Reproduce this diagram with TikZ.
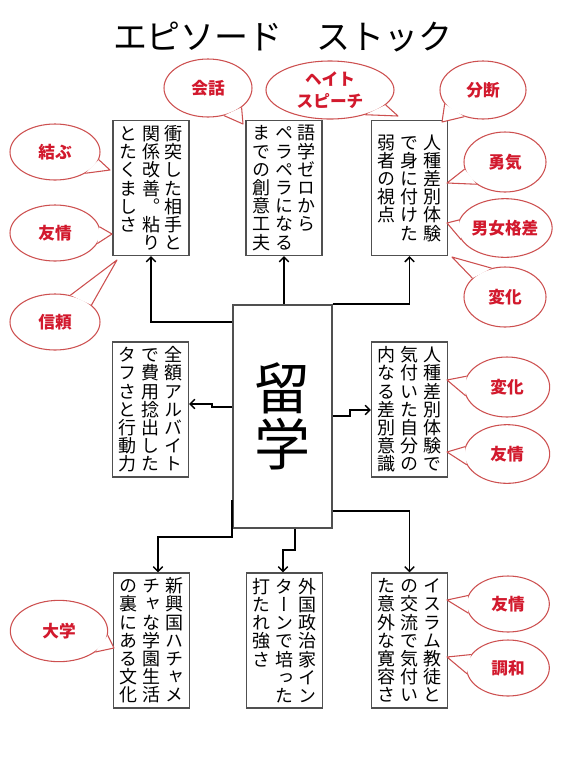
\documentclass[tikz,border=0pt]{standalone}
\usepackage{fontspec}
\usetikzlibrary{shapes.geometric,arrows.meta,calc}
\setmainfont{Noto Sans CJK JP}
\newfontfamily\jpv[RawFeature=+vert]{Noto Sans CJK JP}
\definecolor{bubred}{RGB}{205,80,80}
\definecolor{txtred}{RGB}{210,25,45}
\definecolor{boxline}{RGB}{80,80,80}
\ExplSyntaxOn
\cs_new:Npn \my_tate_char:n #1 { \hbox_to_wd:nn {1em} { \hss #1 \hss } }
\NewDocumentCommand \tatecol { m } { \vtop { \lineskiplimit=-100pt \lineskip=0pt \tl_map_function:nN {#1} \my_tate_char:n } }
\ExplSyntaxOff
\newcommand\colgap{\hspace{3.4pt}}
\newcommand\bubble[8]{%
  \node[bubble, minimum width=#3, minimum height=#4] (#1) at #2 {#5};
  \coordinate (#1tip) at #8;
  \fill[white] (#1.#6) -- (#1tip) -- (#1.#7) -- cycle;
  \draw[bubedge] (#1.#6) -- (#1tip) -- (#1.#7);
}
\tikzset{
  tbox/.style={draw=boxline, line width=1pt, fill=white, minimum width=57pt, minimum height=101.25pt, inner sep=0pt,
    font=\jpv\fontsize{13.5pt}{13.65pt}\selectfont},
  cbox/.style={draw=boxline, line width=1pt, fill=white, minimum width=74.25pt, minimum height=167.25pt, inner sep=0pt,
    font=\jpv\fontsize{42pt}{42pt}\selectfont},
  conn/.style={line width=1.4pt, -{Straight Barb[length=3.5pt,width=7pt,line width=1.1pt]}},
  bubble/.style={ellipse, draw=bubred, line width=0.8pt, fill=white, inner sep=0pt, text=txtred,
    align=center, font=\bfseries\fontsize{12.5pt}{16.5pt}\selectfont},
  bubedge/.style={draw=bubred, line width=0.8pt, line join=round},
}
\begin{document}
\begin{tikzpicture}[x=0.75pt,y=-0.75pt]
\useasboundingbox (0,0) rectangle (567,758);
\fill[white] (0,0) rectangle (567,758);

\node (title) at (283,37) {\fontsize{25.5pt}{30pt}\selectfont エピソード　ストック};

% boxes
\node[tbox] (A) at (151,188) {\tatecol{とたくましさ}\colgap\tatecol{関係改善。粘り}\colgap\tatecol{衝突した相手と}};
\node[tbox] (B) at (284,188) {\tatecol{までの創意工夫}\colgap\tatecol{ペラペラになる}\colgap\tatecol{語学ゼロから}};
\node[tbox] (C) at (409.5,188) {\tatecol{弱者の視点}\colgap\tatecol{で身に付けた}\colgap\tatecol{人種差別体験}};
\node[tbox] (L) at (150.5,409.5) {\tatecol{タフさと行動力}\colgap\tatecol{で費用捻出した}\colgap\tatecol{全額アルバイト}};
\node[tbox] (R) at (409.5,409.5) {\tatecol{内なる差別意識}\colgap\tatecol{気付いた自分の}\colgap\tatecol{人種差別体験で}};
\node[tbox] (D) at (151.5,640.5) {\tatecol{の裏にある文化}\colgap\tatecol{チャな学園生活}\colgap\tatecol{新興国ハチャメ}};
\node[tbox] (E) at (284.5,640.5) {\tatecol{打たれ強さ}\colgap\tatecol{ターンで培った}\colgap\tatecol{外国政治家イン}};
\node[tbox] (F) at (409.5,640.5) {\tatecol{た意外な寛容さ}\colgap\tatecol{の交流で気付い}\colgap\tatecol{イスラム教徒と}};
\node[cbox] (ctr) at (282.5,416.5) {\tatecol{留学}};

% connectors
\draw[conn] (ctr.west |- 0,322) -| (A.south);
\draw[conn] (B.south |- ctr.north) -- (B.south);
\draw[conn] (ctr.north east) -| (C.south);
\draw[conn] (ctr.west |- 0,407) -- (212,407) -- (212,404) -- (L.east |- 0,404);
\draw[conn] (ctr.east |- 0,416) -- (350,416) -- (350,410) -- (R.west |- 0,410);
\draw[conn] (ctr.west |- 0,500) -- (ctr.west |- 0,537) -- (158,537) -- (158,0 |- D.north);
\draw[conn] (295,0 |- ctr.south) -- (295,550) -- (283,550) -- (283,0 |- E.north);
\draw[conn] (ctr.east |- 0,511) -| (F.north);

% bubbles
\bubble{kaiwa}{(208,88)}{66pt}{43.5pt}{会話}{-30}{-60}{(243,124)}
\bubble{hate}{(330,90)}{96pt}{43.5pt}{ヘイト\\スピーチ}{-15}{-35}{(398,116)}
\bubble{bundan}{(483,90)}{64.5pt}{43.5pt}{分断}{200}{235}{(442,122)}
\bubble{musubu}{(55,152)}{67.5pt}{42pt}{結ぶ}{-10}{-35}{(110,170)}
\bubble{yujoL}{(55,233)}{67.5pt}{42pt}{友情}{8}{-14}{(112,234)}
\bubble{shinrai}{(55,322)}{67.5pt}{42pt}{信頼}{60}{25}{(117,260)}
\bubble{daigaku}{(59,631)}{73pt}{46pt}{大学}{-5}{-30}{(114,648)}
\bubble{yuki}{(505,162)}{61.5pt}{45pt}{勇気}{190}{218}{(447,183)}
\bubble{danjo}{(505,228)}{62pt}{44pt}{男女格差}{170}{195}{(447,223)}
\bubble{henkaA}{(505,297)}{61.5pt}{45pt}{変化}{150}{115}{(452,257)}
\bubble{henkaB}{(507,387)}{64pt}{45pt}{変化}{165}{192}{(447,380)}
\bubble{yujoB}{(507,454)}{64pt}{44pt}{友情}{170}{195}{(447,452)}
\bubble{yujoC}{(508,604)}{62pt}{42pt}{友情}{168}{193}{(447,600)}
\bubble{chowa}{(508,668)}{62pt}{42pt}{調和}{160}{188}{(447,657)}
\end{tikzpicture}
\end{document}
